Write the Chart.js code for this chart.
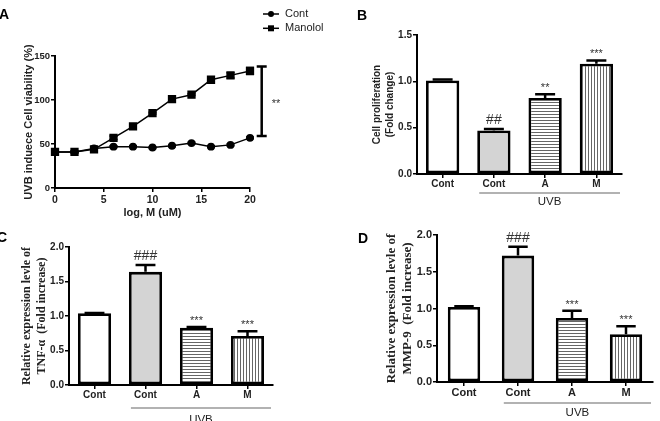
<!DOCTYPE html>
<html>
<head>
<meta charset="utf-8">
<script src="https://cdn.jsdelivr.net/npm/chart.js@4.4.1/dist/chart.umd.min.js"></script>
<style>
body { margin: 0; background: #fff; }
#wrap { position: relative; width: 660px; height: 421px; overflow: hidden; background: #fff; }
#wrap canvas { position: absolute; left: 0; top: 0; }
</style>
</head>
<body>
<div id="wrap">
  <canvas id="chartA" width="660" height="421"></canvas>
  <canvas id="chartB" width="660" height="421"></canvas>
  <canvas id="chartC" width="660" height="421"></canvas>
  <canvas id="chartD" width="660" height="421"></canvas>
</div>
<script>
var W = 660, H = 421

// panel A: viability vs dose
var doseX = [0, 2, 4, 6, 8, 10, 12, 14, 16, 18, 20]
var contViab = [41, 41, 45, 47, 47, 46, 48, 51, 47, 49, 57]
var contErr = [1, 1, 1, 1, 1, 1, 1, 1, 1, 1, 1]
var manViab = [41, 41, 44, 57, 70, 85, 101, 106, 123, 128, 133]
var manErr = [1, 1, 1, 2, 3, 1, 1, 1, 1, 3, 4]
var bracketX = 21.2
var bracketY = [59, 138]

// panels B-D: bar groups
var groups = ['Cont', 'Cont', 'A', 'M']
var prolif = [1.01, 0.47, 0.82, 1.19]
var prolifErr = [0.01, 0.015, 0.04, 0.035]
var prolifMarks = ['', '##', '**', '***']
var tnf = [1.04, 1.64, 0.83, 0.71]
var tnfErr = [0.005, 0.1, 0.01, 0.07]
var tnfMarks = ['', '###', '***', '***']
var mmp = [1.02, 1.72, 0.87, 0.65]
var mmpErr = [0.01, 0.12, 0.1, 0.11]
var mmpMarks = ['', '###', '***', '***']

var SANS = "'Liberation Sans', Arial, sans-serif"
var SERIF = "'Liberation Serif', 'Times New Roman', serif"

Chart.defaults.font.family = SANS
Chart.defaults.color = '#222'
Chart.defaults.animation = false

function frame(box, yW, xH) {
    return { left: box.left - yW, top: box.top, right: W - box.right, bottom: H - box.bottom - xH }
}

function stripes(canvasId, dir) {
    var c = document.createElement('canvas')
    c.width = 3
    c.height = 3
    var g = c.getContext('2d')
    g.fillStyle = '#fff'
    g.fillRect(0, 0, 3, 3)
    g.fillStyle = '#666'
    if (dir === 'h') g.fillRect(0, 0, 3, 1)
    else g.fillRect(0, 0, 1, 3)
    return document.getElementById(canvasId).getContext('2d').createPattern(c, 'repeat')
}

function letter(ctx, o) {
    if (!o.letter) return
    ctx.font = 'bold 14px ' + SANS
    ctx.fillStyle = '#000'
    ctx.textAlign = 'center'
    ctx.textBaseline = 'middle'
    ctx.fillText(o.letter[0], o.letter[1], o.letter[2])
}

// error bars, bracket, legend, marks, group line
var decoPlugin = {
    id: 'deco',
    beforeDatasetsDraw: function (chart, args, o) {
        if (o.kind !== 'line') return
        var ctx = chart.ctx, ys = chart.scales.y
        ctx.save()
        ctx.strokeStyle = '#000'
        ctx.lineWidth = 1.5
        o.errors.forEach(function (errs, d) {
            var meta = chart.getDatasetMeta(d)
            var vals = chart.data.datasets[d].data
            meta.data.forEach(function (pt, i) {
                var t = ys.getPixelForValue(vals[i].y + errs[i])
                var b = ys.getPixelForValue(vals[i].y - errs[i])
                ctx.beginPath()
                ctx.moveTo(pt.x, t); ctx.lineTo(pt.x, b)
                ctx.moveTo(pt.x - 4, t); ctx.lineTo(pt.x + 4, t)
                ctx.moveTo(pt.x - 4, b); ctx.lineTo(pt.x + 4, b)
                ctx.stroke()
            })
        })
        ctx.restore()
    },
    afterDraw: function (chart, args, o) {
        var ctx = chart.ctx, ys = chart.scales.y, xs = chart.scales.x, area = chart.chartArea
        ctx.save()
        letter(ctx, o)
        if (o.kind === 'line') {
            // significance bracket
            var bx = xs.getPixelForValue(o.bracketX)
            var b0 = ys.getPixelForValue(o.bracketY[0]), b1 = ys.getPixelForValue(o.bracketY[1])
            ctx.strokeStyle = '#000'
            ctx.lineWidth = 2.5
            ctx.beginPath()
            ctx.moveTo(bx, b0); ctx.lineTo(bx, b1)
            ctx.moveTo(bx - 5, b0); ctx.lineTo(bx + 5, b0)
            ctx.moveTo(bx - 5, b1); ctx.lineTo(bx + 5, b1)
            ctx.stroke()
            ctx.fillStyle = '#333'
            ctx.font = '11px ' + SANS
            ctx.textAlign = 'left'
            ctx.textBaseline = 'alphabetic'
            ctx.fillText('**', bx + 10, (b0 + b1) / 2 + 6)
            // legend
            chart.data.datasets.forEach(function (ds, i) {
                var ly = o.legend.y + i * 14.3
                ctx.strokeStyle = '#000'
                ctx.lineWidth = 1.5
                ctx.beginPath()
                ctx.moveTo(o.legend.x, ly); ctx.lineTo(o.legend.x + 16, ly)
                ctx.stroke()
                ctx.fillStyle = '#000'
                ctx.beginPath()
                if (ds.pointStyle === 'rect') ctx.rect(o.legend.x + 5, ly - 3, 6, 6)
                else ctx.arc(o.legend.x + 8, ly, 3, 0, Math.PI * 2)
                ctx.fill()
                ctx.fillStyle = '#222'
                ctx.font = '11px ' + SANS
                ctx.textAlign = 'left'
                ctx.textBaseline = 'middle'
                ctx.fillText(ds.label, o.legend.x + 22, ly)
            })
        } else {
            var meta = chart.getDatasetMeta(0)
            var vals = chart.data.datasets[0].data
            meta.data.forEach(function (bar, i) {
                var top = ys.getPixelForValue(vals[i])
                var et = ys.getPixelForValue(vals[i] + o.errors[i])
                var cw = bar.width * 0.3
                ctx.strokeStyle = '#000'
                ctx.lineWidth = 2.5
                ctx.beginPath()
                ctx.moveTo(bar.x, top); ctx.lineTo(bar.x, et)
                ctx.moveTo(bar.x - cw, et); ctx.lineTo(bar.x + cw, et)
                ctx.stroke()
                var m = o.marks[i]
                if (m) {
                    ctx.fillStyle = '#333'
                    ctx.textAlign = 'center'
                    ctx.textBaseline = 'alphabetic'
                    ctx.font = (m.charAt(0) === '#' ? '14px ' : '11px ') + SANS
                    ctx.fillText(m, bar.x, et - (m.charAt(0) === '#' ? 5 : 3))
                }
            })
            // UVB group line
            var b1 = meta.data[1]
            var gy = area.bottom + o.groupGap
            ctx.strokeStyle = '#999'
            ctx.lineWidth = 1.3
            ctx.beginPath()
            ctx.moveTo(b1.x - b1.width / 2 + 2, gy)
            ctx.lineTo(area.right - 2, gy)
            ctx.stroke()
            ctx.fillStyle = '#222'
            ctx.font = '11.5px ' + SANS
            ctx.textAlign = 'center'
            ctx.textBaseline = 'middle'
            ctx.fillText(o.groupLabel, (b1.x - b1.width / 2 + area.right) / 2, gy + o.textGap)
        }
        ctx.restore()
    }
}

function axisY(yW, max, title, titleFont, tickSize, lh) {
    return {
        min: 0, max: max,
        afterFit: function (s) { s.width = yW },
        border: { display: true, color: '#000', width: 2 },
        grid: { drawOnChartArea: false, drawTicks: true, tickLength: 4, color: '#000', lineWidth: 1.5 },
        ticks: {
            stepSize: max > 10 ? 50 : 0.5, padding: 1, color: '#222',
            font: { size: tickSize, weight: 'bold' },
            callback: function (v) { return max > 10 ? v : v.toFixed(1) }
        },
        title: { display: true, text: title, padding: 0, color: '#222', font: { family: titleFont, size: lh[0], weight: 'bold', lineHeight: lh[1] } }
    }
}

// panel A
var boxA = { left: 55, top: 56, right: 250, bottom: 188 }
var chartA = new Chart(document.getElementById('chartA'), {
    type: 'line',
    data: {
        datasets: [
            {
                label: 'Cont',
                data: doseX.map(function (x, i) { return { x: x, y: contViab[i] } }),
                borderColor: '#000', backgroundColor: '#000', borderWidth: 1.5,
                pointStyle: 'circle', pointRadius: 3.2, clip: false
            },
            {
                label: 'Manolol',
                data: doseX.map(function (x, i) { return { x: x, y: manViab[i] } }),
                borderColor: '#000', backgroundColor: '#000', borderWidth: 1.5,
                pointStyle: 'rect', pointRadius: 4.8, clip: false
            }
        ]
    },
    options: {
        responsive: false,
        layout: { padding: frame(boxA, 32.6, 31.6) },
        scales: {
            x: {
                type: 'linear', min: 0, max: 20,
                afterFit: function (s) { s.height = 31.6 },
                border: { display: true, color: '#000', width: 2 },
                grid: { drawOnChartArea: false, drawTicks: true, tickLength: 4, color: '#000', lineWidth: 1.5 },
                ticks: { stepSize: 5, padding: 2, color: '#222', font: { size: 10.5, weight: 'bold' } },
                title: { display: true, text: 'log, M (uM)', padding: 0, color: '#222', font: { size: 11, weight: 'bold', lineHeight: 1.2 } }
            },
            y: axisY(32.6, 150, 'UVB induece Cell viability (%)', SANS, 9.5, [11, 1.2])
        },
        plugins: {
            legend: { display: false },
            tooltip: { enabled: false },
            deco: {
                kind: 'line', letter: ['A', 4, 15],
                errors: [contErr, manErr],
                bracketX: bracketX, bracketY: bracketY,
                legend: { x: 263, y: 14 }
            }
        }
    },
    plugins: [decoPlugin]
})

function barChart(id, box, yW, max, title, titleFont, lh, tickSize, vals, errs, marks, barPct, extra) {
    var fills = ['#fff', '#d4d4d4', stripes(id, 'h'), stripes(id, 'v')]
    extra.kind = 'bars'
    extra.errors = errs
    extra.marks = marks
    extra.groupLabel = 'UVB'
    return new Chart(document.getElementById(id), {
        type: 'bar',
        data: {
            labels: groups,
            datasets: [{
                data: vals,
                backgroundColor: fills,
                borderColor: '#000',
                borderWidth: 2.8,
                borderSkipped: false,
                categoryPercentage: 1,
                barPercentage: barPct
            }]
        },
        options: {
            responsive: false,
            layout: { padding: frame(box, yW, 20) },
            scales: {
                x: {
                    afterFit: function (s) { s.height = 20 },
                    border: { display: true, color: '#000', width: 2 },
                    grid: { drawOnChartArea: false, offset: false, drawTicks: true, tickLength: 4, color: '#000', lineWidth: 1.5 },
                    ticks: { padding: 0, color: '#222', font: { size: tickSize, weight: 'bold' } }
                },
                y: axisY(yW, max, title, titleFont, tickSize, lh)
            },
            plugins: {
                legend: { display: false },
                tooltip: { enabled: false },
                deco: extra
            }
        },
        plugins: [decoPlugin]
    })
}

var chartB = barChart('chartB', { left: 417, top: 35, right: 622, bottom: 174 }, 46.5, 1.5,
    ['Cell proliferation', '(Fold change)'], SANS, [10, 1.3], 10,
    prolif, prolifErr, prolifMarks, 0.65,
    { letter: ['B', 362, 16], groupGap: 19, textGap: 9 })

var chartC = barChart('chartC', { left: 69, top: 247, right: 273, bottom: 385 }, 49.5, 2,
    ['Relative expression levle of', 'TNF-\u03b1  (Fold increase)'], SERIF, [12, 1.25], 10,
    tnf, tnfErr, tnfMarks, 0.65,
    { letter: ['C', 2, 238], groupGap: 23, textGap: 12 })

var chartD = barChart('chartD', { left: 437, top: 235, right: 653, bottom: 382 }, 53, 2,
    ['Relative expression levle of', 'MMP-9  (Fold increase)'], SERIF, [13, 1.23], 11,
    mmp, mmpErr, mmpMarks, 0.6,
    { letter: ['D', 363, 239], groupGap: 21, textGap: 10 })
</script>
</body>
</html>
